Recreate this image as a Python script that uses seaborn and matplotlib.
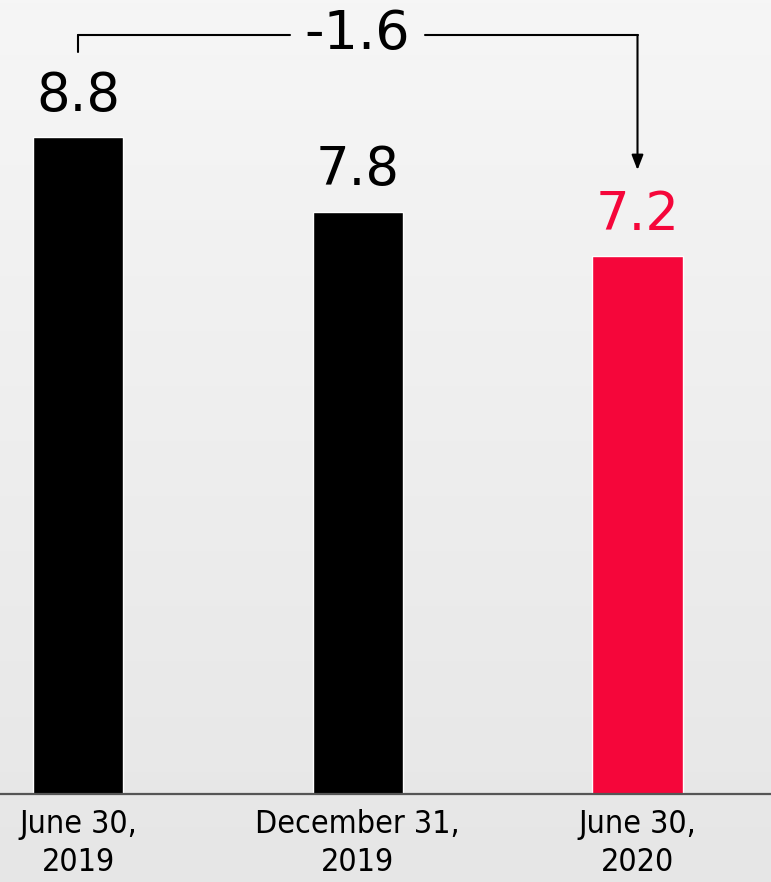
import numpy as np
import pandas as pd
import matplotlib
matplotlib.use("Agg")
import matplotlib.pyplot as plt
import seaborn as sns
from matplotlib.colors import LinearSegmentedColormap

categories = ["June 30,\n2019", "December 31,\n2019", "June 30,\n2020"]
values = [8.8, 7.8, 7.2]
bar_colors = ["#000000", "#000000", "#F5063A"]
change_label = "-1.6"

sns.set_style("white")
plt.rcParams['font.family'] = ['DejaVu Sans']

W, H = 771, 882
fig = plt.figure(figsize=(W / 100, H / 100), dpi=100)

# background gradient
bg = fig.add_axes([0, 0, 1, 1], zorder=-10)
grad = np.linspace(0, 1, 256).reshape(-1, 1)
cmap = LinearSegmentedColormap.from_list("bg", ["#f6f6f6", "#e6e6e6"])
bg.imshow(grad, aspect="auto", cmap=cmap, extent=[0, 1, 0, 1], origin="upper")
bg.axis("off")

base = 794
ax = fig.add_axes([0, 1 - base / H, 1, base / H])
ax.patch.set_alpha(0)
df = pd.DataFrame({"cat": categories, "val": values})
sns.barplot(data=df, x="cat", y="val", hue="cat", palette=bar_colors,
            width=0.322, edgecolor="white", linewidth=1.0, legend=False, ax=ax,
            saturation=1)

pxu = 279.75
ax.set_xlim(-78 / pxu, (W - 78) / pxu)
ppy = 74.66
ax.set_ylim(0, base / ppy)

for s in ["top", "right", "left"]:
    ax.spines[s].set_visible(False)
ax.spines["bottom"].set_color("#555555")
ax.spines["bottom"].set_linewidth(1.6)
ax.set_yticks([])
ax.set_xlabel("")
ax.set_ylabel("")
ax.tick_params(axis="x", length=0, pad=11, colors="black")
for lab in ax.get_xticklabels():
    lab.set_fontsize(23)
    lab.set_fontstretch("condensed")
    lab.set_linespacing(1.28)
    lab.set_color("black")

for i, v in enumerate(values):
    ax.annotate(f"{v}", (i, v), xytext=(0, 11), textcoords="offset points",
                ha="center", va="bottom", fontsize=38,
                color=bar_colors[i])

def py(p):
    return (base - p) / ppy

# bracket
ax.plot([0, 0], [py(52), py(35)], color="black", lw=1.5, clip_on=False)
ax.plot([0, (290 - 78) / pxu], [py(35), py(35)], color="black", lw=1.5, clip_on=False)
ax.plot([(425 - 78) / pxu, 2], [py(35), py(35)], color="black", lw=1.5, clip_on=False)
ax.annotate("", xy=(2, py(170)), xytext=(2, py(35)),
            arrowprops=dict(arrowstyle="-|>,head_length=0.9,head_width=0.35",
                            color="black", lw=1.5, shrinkA=0, shrinkB=0),
            annotation_clip=False)
ax.text((357 - 78) / pxu, py(34), change_label, ha="center", va="center",
        fontsize=39, color="black")

fig.savefig("out.png", dpi=100)
